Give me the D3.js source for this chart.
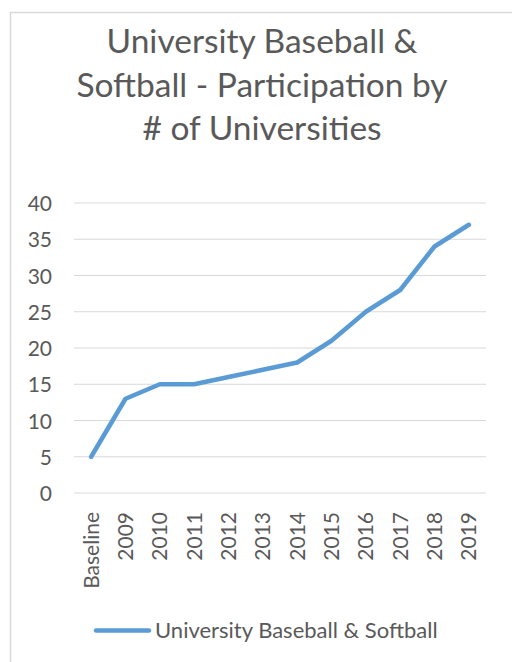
<!DOCTYPE html>
<html><head><meta charset="utf-8">
<script src="https://cdn.jsdelivr.net/npm/d3@7"></script>
<style>html,body{margin:0;padding:0;background:#fff;}svg{display:block;}</style>
</head><body>
<script>
const categories = ["Baseline","2009","2010","2011","2012","2013","2014","2015","2016","2017","2018","2019"];
const values = [5,13,15,15,16,17,18,21,25,28,34,37];
const seriesName = "University Baseball & Softball";
const yTicks = [0,5,10,15,20,25,30,35,40];
const titleLines = ["University Baseball &","Softball - Participation by","# of Universities"];

const W = 512, H = 662;
const font = "Lato, 'Open Sans', sans-serif";
const textColor = "#595959";
const svg = d3.select("body").append("svg").attr("width", W).attr("height", H);

// chart border (cropped at right/bottom)
svg.append("path").attr("d", `M10.5,${H} V12.5 H512`).attr("fill","none").attr("stroke","#d9d9d9").attr("stroke-width",1.5);

// title
svg.append("g").selectAll("text").data(titleLines).join("text")
  .attr("x", 262).attr("y", (d,i)=>53 + i*43.5)
  .attr("text-anchor","middle").attr("font-family",font).attr("font-size",33.5)
  .attr("fill",textColor).text(d=>d);

const x = d3.scaleBand().domain(categories).range([74,486]);
const y = d3.scaleLinear().domain([0,40]).range([493,203]);

// gridlines
svg.append("g").selectAll("line").data(yTicks).join("line")
  .attr("x1",74).attr("x2",486).attr("y1",d=>y(d)).attr("y2",d=>y(d))
  .attr("stroke","#d9d9d9").attr("stroke-width",1.2);

// y axis labels
const yAxis = d3.axisLeft(y).tickValues(yTicks).tickSize(0).tickPadding(0);
const gy = svg.append("g").attr("transform","translate(52,0)").call(yAxis);
gy.select(".domain").remove();
gy.selectAll("text").attr("font-family",font).attr("font-size",21).attr("fill",textColor).attr("dy","0.36em");

// x axis labels
const xAxis = d3.axisBottom(x).tickSize(0).tickPadding(0);
const gx = svg.append("g").attr("transform","translate(0,512)").call(xAxis);
gx.select(".domain").remove();
gx.selectAll("text").attr("font-family",font).attr("font-size",21).attr("fill",textColor)
  .attr("transform","rotate(-90)").attr("text-anchor","end").attr("x",0).attr("y",0).attr("dy","0.36em");

// line
const line = d3.line().x((d,i)=>x(categories[i])+x.bandwidth()/2).y(d=>y(d));
svg.append("path").datum(values).attr("d",line).attr("fill","none")
  .attr("stroke","#5b9bd5").attr("stroke-width",4.5).attr("stroke-linecap","round").attr("stroke-linejoin","round");

// legend
svg.append("line").attr("x1",96).attr("x2",149).attr("y1",630.5).attr("y2",630.5)
  .attr("stroke","#5b9bd5").attr("stroke-width",4.5).attr("stroke-linecap","round");
svg.append("text").attr("x",155).attr("y",637.5).attr("font-family",font).attr("font-size",22)
  .attr("fill",textColor).text(seriesName);
</script>
</body></html>
